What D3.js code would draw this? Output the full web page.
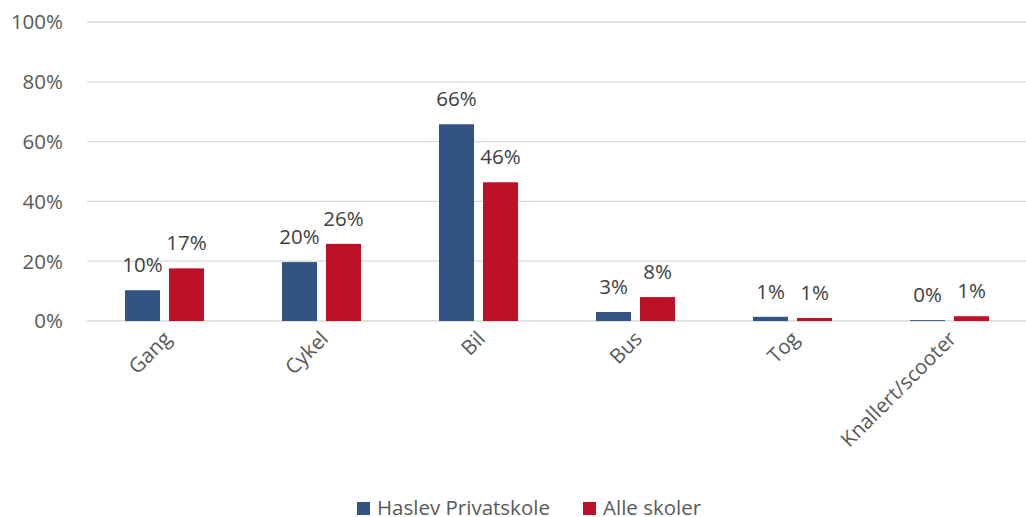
<!DOCTYPE html>
<html><head><meta charset="utf-8">
<script src="https://cdn.jsdelivr.net/npm/d3@7"></script>
<style>body{margin:0;background:#fff;} svg{display:block;font-family:"Open Sans",sans-serif;}</style>
</head><body>
<svg id="c" width="1026" height="517"></svg>
<script>
const categories = ["Gang","Cykel","Bil","Bus","Tog","Knallert/scooter"];
const seriesNames = ["Haslev Privatskole","Alle skoler"];
const haslev = [0.103, 0.197, 0.658, 0.030, 0.014, 0.003];
const alle = [0.176, 0.258, 0.464, 0.080, 0.010, 0.016];
const haslevLabels = ["10%","20%","66%","3%","1%","0%"];
const alleLabels = ["17%","26%","46%","8%","1%","1%"];
const yTicks = [0,0.2,0.4,0.6,0.8,1.0];
const colors = ["#335483","#BE1128"];

const svg = d3.select("#c");
const x = d3.scaleBand().domain(categories).range([86, 1028]).paddingInner(0).paddingOuter(0);
const y = d3.scaleLinear().domain([0,1]).range([321, 22]);
const fs = 20.5;

// gridlines
svg.append("g").selectAll("line").data(yTicks).join("line")
  .attr("x1",87).attr("x2",1026).attr("y1",d=>y(d)).attr("y2",d=>y(d))
  .attr("stroke","#d9d9d9").attr("stroke-width",1.3);

// y axis labels
svg.append("g").selectAll("text").data(yTicks).join("text")
  .attr("x",63).attr("y",d=>y(d)).attr("dy","0.36em").attr("text-anchor","end")
  .attr("fill","#595959").attr("font-size",fs).text(d=>d3.format(".0%")(d));

const bw = 35, gap = 9;
const series = [haslev, alle];
const labels = [haslevLabels, alleLabels];
series.forEach((vals, si) => {
  const off = si === 0 ? -(gap/2 + bw) : gap/2;
  svg.append("g").selectAll("rect").data(categories).join("rect")
    .attr("x", c => x(c) + x.bandwidth()/2 + off)
    .attr("width", bw)
    .attr("y", (c,i) => y(vals[i]))
    .attr("height", (c,i) => y(0) - y(vals[i]))
    .attr("fill", colors[si]);
  svg.append("g").selectAll("text").data(categories).join("text")
    .attr("x", c => x(c) + x.bandwidth()/2 + off + bw/2)
    .attr("y", (c,i) => y(vals[i]) - 18)
    .attr("text-anchor","middle").attr("fill","#404040").attr("font-size",fs)
    .text((c,i) => labels[si][i]);
});

// x axis labels
svg.append("g").selectAll("text").data(categories).join("text")
  .attr("transform", c => `translate(${x(c)+x.bandwidth()/2+8},${340}) rotate(-45)`)
  .attr("text-anchor","end").attr("fill","#595959").attr("font-size",fs)
  .text(c=>c);

// legend
const leg = svg.append("g");
const legX = [357, 583];
seriesNames.forEach((n,i)=>{
  leg.append("rect").attr("x",legX[i]).attr("y",502).attr("width",13).attr("height",13).attr("fill",colors[i]);
  leg.append("text").attr("x",legX[i]+20).attr("y",515).attr("fill","#595959").attr("font-size",fs).text(n);
});
</script>
</body></html>
